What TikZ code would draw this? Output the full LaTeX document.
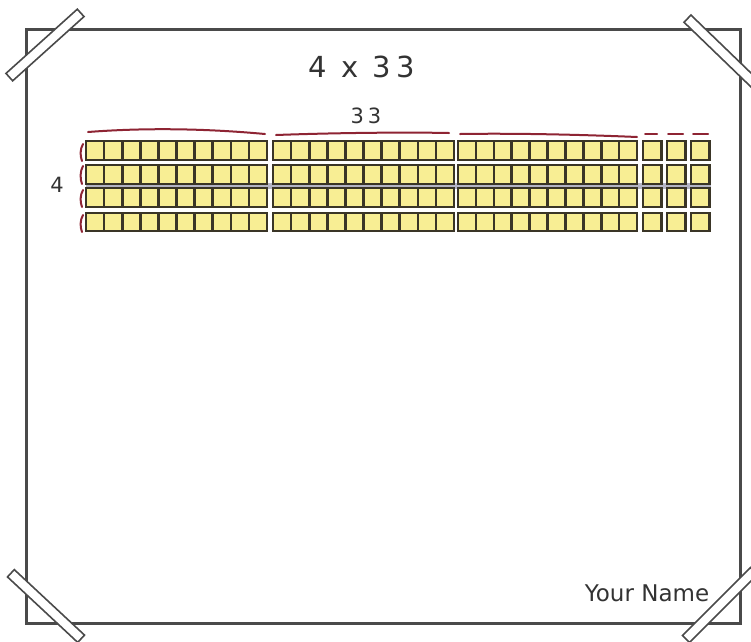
\documentclass[tikz,border=0pt]{standalone}
\usepackage{fontspec}
\setmainfont{DejaVu Sans}
\definecolor{frame}{HTML}{4A4A4A}
\definecolor{cube}{HTML}{F8EE94}
\definecolor{cubeline}{HTML}{3A3526}
\definecolor{brace}{HTML}{8E2433}
\definecolor{band}{HTML}{B4B4C4}
\begin{document}
\begin{tikzpicture}[x=1pt,y=-1pt,
  framestyle/.style={draw=frame,line width=3pt},
  tapestyle/.style={draw=frame,fill=white,line width=1.6pt},
  cell/.style={draw=cubeline,fill=cube,line width=2.6pt},
  bracestyle/.style={draw=brace,line width=2pt,line cap=round},
  lbl/.style={inner sep=0pt,text=black!80}]
\useasboundingbox (0,0) rectangle (751,641);
\fill[white] (0,0) rectangle (751,641);
% frame
\draw[framestyle] (26,29) rectangle (740,623);
% tapes
\draw[tapestyle,rotate around={42:(45,45)}] (-3,40) rectangle (93,50);
\draw[tapestyle,rotate around={-44:(722,52)}] (674,47) rectangle (770,57);
\draw[tapestyle,rotate around={-43:(46,606)}] (-2,601) rectangle (94,611);
\draw[tapestyle,rotate around={45:(720,605)}] (672,600) rectangle (768,610);
% title
\node[lbl,font=\fontsize{29}{34}\selectfont] (title) at (362,67) {4\hspace{14pt}x\hspace{14pt}3\hspace{6pt}3};
\node[lbl,font=\fontsize{21}{25}\selectfont] (top33) at (366,116) {3\hspace{4pt}3};
\node[lbl,font=\fontsize{21}{25}\selectfont] (left4) at (57,185) {4};
\node[lbl,font=\fontsize{23}{27}\selectfont] (name) at (647,593) {Your Name};
% band between rows 2 and 3
\fill[band] (86,183) rectangle (711,189);
% blocks
\foreach \yt/\yb in {141/160,165/184,188/207,213/231}{
  \foreach \gx/\w in {86/18.1,273/18.1,458/17.9}{
    \foreach \i in {0,...,9}{
      \draw[cell] ({\gx+\i*\w},\yt) rectangle ({\gx+(\i+1)*\w},\yb);
    }
  }
  \foreach \sx in {643,667,691}{
    \draw[cell] (\sx,\yt) rectangle ({\sx+18.5},\yb);
  }
}
% top braces
\draw[bracestyle] (88,132) .. controls (140,128) and (200,128) .. (265,134);
\draw[bracestyle] (276,135) .. controls (330,133) and (400,132) .. (449,133);
\draw[bracestyle] (460,134) .. controls (520,133) and (590,135) .. (637,137);
\draw[bracestyle] (645,134) -- (657,134);
\draw[bracestyle] (668,134) -- (683,134);
\draw[bracestyle] (693,134) -- (708,134);
% left brackets
\foreach \yt/\yb in {144/161,166/184,190/207,215/232}{
  \draw[bracestyle] (83,\yt) .. controls (80,{\yt+5}) and (80,{\yb-5}) .. (82,\yb);
}
\end{tikzpicture}
\end{document}
